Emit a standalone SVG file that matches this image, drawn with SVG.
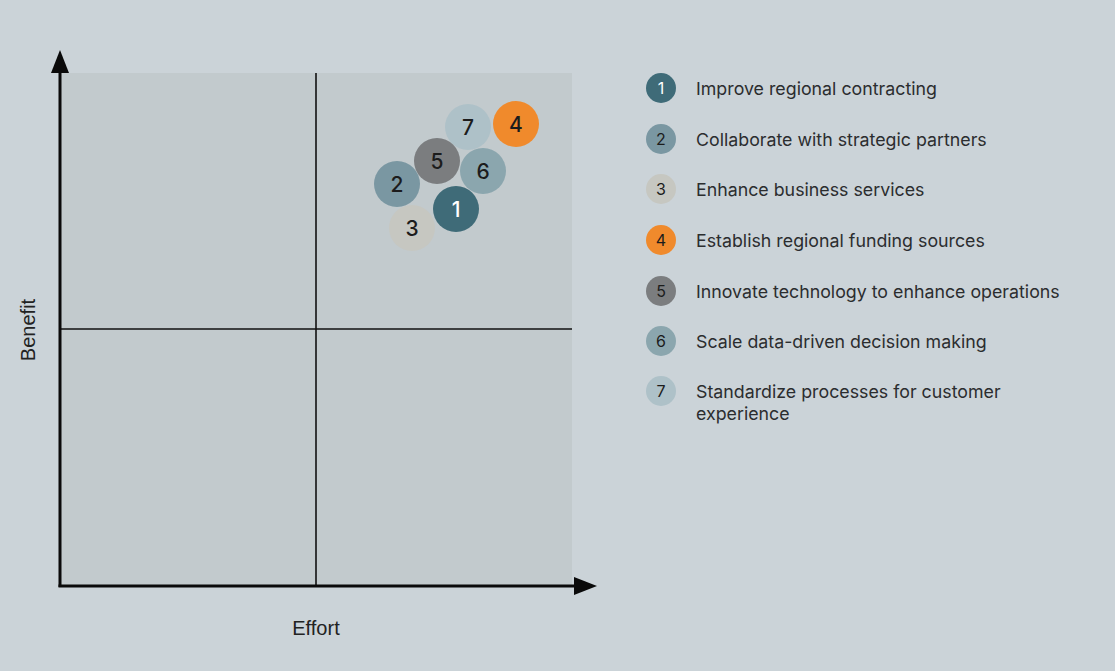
<svg xmlns="http://www.w3.org/2000/svg" width="1115" height="671" viewBox="0 0 1115 671">
<style>
.lbl{font-family:"Inter","Liberation Sans",sans-serif;font-size:17.8px;fill:#2b2d2f}
.num{font-family:"Inter","Liberation Sans",sans-serif;font-size:21px;font-weight:500;fill:#1c1c1c;text-anchor:middle}
.lnum{font-family:"Inter","Liberation Sans",sans-serif;font-size:16px;fill:#1c1c1c;text-anchor:middle}
.ax{font-family:"Liberation Sans",sans-serif;font-size:20px;fill:#222;text-anchor:middle}
.axis{stroke:#0a0a0a;stroke-width:3;fill:none}
.mid{stroke:#111;stroke-width:1.6;fill:none}
.c1{fill:#3f6b78}.c2{fill:#7a97a2}.c3{fill:#c6c7c1}.c4{fill:#f08a2c}.c5{fill:#7b7d7f}.c6{fill:#8ba6ae}.c7{fill:#aec1c8}
</style>
<rect x="0" y="0" width="1115" height="671" fill="#cbd3d8"/>
<rect x="60" y="73" width="512" height="513" fill="#c2cacd"/>
<g id="connectors">
<line class="mid" x1="316" y1="73" x2="316" y2="586"/>
<line class="mid" x1="60" y1="329" x2="572" y2="329"/>
<line class="axis" x1="60" y1="587" x2="60" y2="68"/>
<polygon points="60,50 51,73 69,73" fill="#0a0a0a"/>
<line class="axis" x1="58.5" y1="586" x2="578" y2="586"/>
<polygon points="597,586 574,577 574,595" fill="#0a0a0a"/>
</g>
<text class="ax" x="316" y="635">Effort</text>
<text class="ax" transform="translate(35,330) rotate(-90)">Benefit</text>
<g id="n7"><circle class="c7" cx="468" cy="127" r="23"/><text class="num" x="468" y="134.5">7</text></g>
<g id="n4"><circle class="c4" cx="516" cy="124" r="23"/><text class="num" x="516" y="131.5">4</text></g>
<g id="n5"><circle class="c5" cx="437" cy="161" r="23"/><text class="num" x="437" y="168.5">5</text></g>
<g id="n6"><circle class="c6" cx="483" cy="171" r="23"/><text class="num" x="483" y="178.5">6</text></g>
<g id="n2"><circle class="c2" cx="397" cy="184" r="23"/><text class="num" x="397" y="191.5">2</text></g>
<g id="n3"><circle class="c3" cx="412" cy="228" r="23"/><text class="num" x="412" y="235.5">3</text></g>
<g id="n1"><circle class="c1" cx="456" cy="209" r="23"/><text class="num" x="456" y="216.5" style="fill:#fff">1</text></g>
<g id="legend">
<g id="l1"><circle class="c1" cx="661" cy="88" r="15"/><text class="lnum" x="661" y="94" style="fill:#fff">1</text><text class="lbl" x="696" y="94.5">Improve regional contracting</text></g>
<g id="l2"><circle class="c2" cx="661" cy="139" r="15"/><text class="lnum" x="661" y="145">2</text><text class="lbl" x="696" y="145.5">Collaborate with strategic partners</text></g>
<g id="l3"><circle class="c3" cx="661" cy="189" r="15"/><text class="lnum" x="661" y="195">3</text><text class="lbl" x="696" y="195.5">Enhance business services</text></g>
<g id="l4"><circle class="c4" cx="661" cy="240" r="15"/><text class="lnum" x="661" y="246">4</text><text class="lbl" x="696" y="246.5">Establish regional funding sources</text></g>
<g id="l5"><circle class="c5" cx="661" cy="291" r="15"/><text class="lnum" x="661" y="297">5</text><text class="lbl" x="696" y="297.5">Innovate technology to enhance operations</text></g>
<g id="l6"><circle class="c6" cx="661" cy="341" r="15"/><text class="lnum" x="661" y="347">6</text><text class="lbl" x="696" y="347.5">Scale data-driven decision making</text></g>
<g id="l7"><circle class="c7" cx="661" cy="391" r="15"/><text class="lnum" x="661" y="397">7</text><text class="lbl" x="696" y="397.5">Standardize processes for customer</text><text class="lbl" x="696" y="419.5">experience</text></g>
</g>
</svg>
